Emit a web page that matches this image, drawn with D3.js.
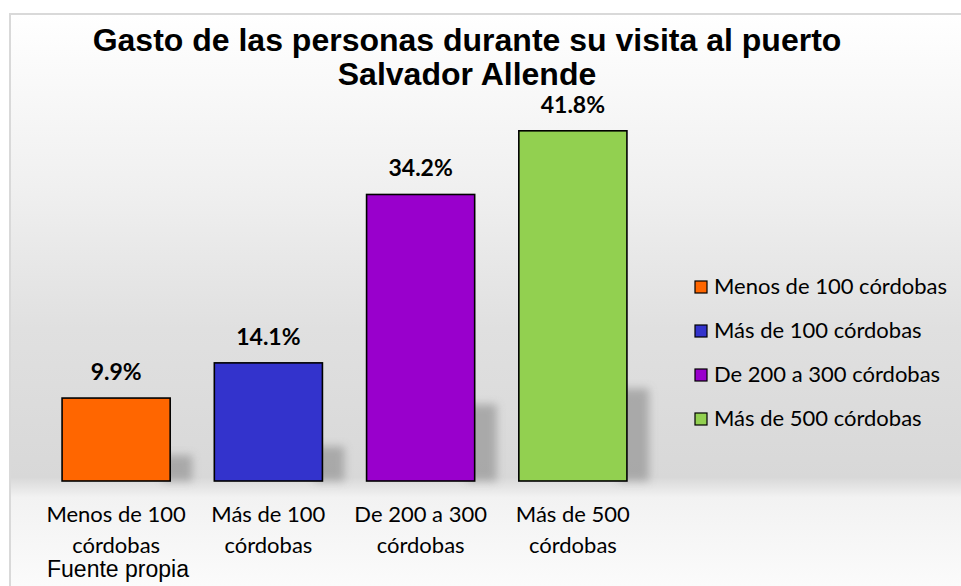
<!DOCTYPE html>
<html>
<head>
<meta charset="utf-8">
<script src="https://cdnjs.cloudflare.com/ajax/libs/d3/7.8.5/d3.min.js"></script>
<style>
  body { margin: 0; background: #ffffff; }
  svg { display: block; }
</style>
</head>
<body>
<div id="chart"></div>
<script>
// data
var categories = ["Menos de 100 córdobas", "Más de 100 córdobas", "De 200 a 300 córdobas", "Más de 500 córdobas"];
var axisLines = [["Menos de 100", "córdobas"], ["Más de 100", "córdobas"], ["De 200 a 300", "córdobas"], ["Más de 500", "córdobas"]];
var values = [9.9, 14.1, 34.2, 41.8];
var colors = ["#ff6600", "#3333cc", "#9900cc", "#92d050"];

var width = 961, height = 586;
var labelFont = "Lato, 'Open Sans', sans-serif";

var svg = d3.select("#chart").append("svg")
    .attr("width", width)
    .attr("height", height);

var defs = svg.append("defs");

// background of the chart area: light at top, grey floor, light again below
var grad = defs.append("linearGradient")
    .attr("id", "bg")
    .attr("gradientUnits", "userSpaceOnUse")
    .attr("x1", 0).attr("y1", 14).attr("x2", 0).attr("y2", 586);
[[0, "#ffffff"], [0.3, "#f0f0f0"], [0.55, "#e0e0e0"], [0.81, "#d8d8d8"], [0.845, "#f2f2f2"], [1, "#fbfbfb"]]
    .forEach(function(s){
        grad.append("stop").attr("offset", s[0]).attr("stop-color", s[1]);
    });

var blur = defs.append("filter")
    .attr("id", "shadow")
    .attr("x", "-50%").attr("y", "-50%").attr("width", "200%").attr("height", "200%");
blur.append("feGaussianBlur").attr("stdDeviation", 4);

// frame
svg.append("rect")
    .attr("x", 10).attr("y", 14)
    .attr("width", 970).attr("height", 600)
    .attr("fill", "url(#bg)")
    .attr("stroke", "#d9d9d9")
    .attr("stroke-width", 2);

// title
var title = svg.append("text")
    .attr("text-anchor", "middle")
    .attr("font-family", "'Liberation Sans', Arial, sans-serif")
    .attr("font-weight", "bold")
    .attr("font-size", "32px")
    .attr("fill", "#000");
title.append("tspan").attr("x", 467).attr("y", 51).text("Gasto de las personas durante su visita al puerto");
title.append("tspan").attr("x", 467).attr("y", 85).text("Salvador Allende");

// scales
var x = d3.scaleBand()
    .domain(categories)
    .range([40, 649])
    .paddingInner(0.29)
    .paddingOuter(0.145);

var y = d3.scaleLinear()
    .domain([0, 45])
    .range([481, 104]);

var g = svg.append("g");

// soft shadows falling right of each bar
g.selectAll("rect.shadow")
    .data(values)
    .enter().append("rect")
    .attr("class", "shadow")
    .attr("x", function(d, i){ return x(categories[i]) + x.bandwidth() - 8; })
    .attr("width", 30)
    .attr("y", function(d){ return y(0) - ((y(0) - y(d)) * 0.25 + 5); })
    .attr("height", function(d){ return (y(0) - y(d)) * 0.25 + 5; })
    .attr("fill", "#999")
    .attr("opacity", 0.75)
    .attr("filter", "url(#shadow)");

g.selectAll("rect.bar")
    .data(values)
    .enter().append("rect")
    .attr("class", "bar")
    .attr("x", function(d, i){ return x(categories[i]); })
    .attr("width", x.bandwidth())
    .attr("y", function(d){ return y(d); })
    .attr("height", function(d){ return y(0) - y(d); })
    .attr("fill", function(d, i){ return colors[i]; })
    .attr("stroke", "#000")
    .attr("stroke-width", 1.6);

// value labels
g.selectAll("text.val")
    .data(values)
    .enter().append("text")
    .attr("class", "val")
    .attr("x", function(d, i){ return x(categories[i]) + x.bandwidth() / 2; })
    .attr("y", function(d){ return y(d) - 18; })
    .attr("text-anchor", "middle")
    .attr("font-family", labelFont)
    .attr("font-weight", "bold")
    .attr("font-size", "23px")
    .attr("fill", "#000")
    .text(function(d){ return d.toFixed(1) + "%"; });

// category labels (two lines each)
var xl = g.selectAll("text.cat")
    .data(axisLines)
    .enter().append("text")
    .attr("class", "cat")
    .attr("text-anchor", "middle")
    .attr("font-family", labelFont)
    .attr("font-size", "22px")
    .attr("fill", "#000");
xl.append("tspan")
    .attr("x", function(d, i){ return x(categories[i]) + x.bandwidth() / 2; })
    .attr("y", 522)
    .text(function(d){ return d[0]; });
xl.append("tspan")
    .attr("x", function(d, i){ return x(categories[i]) + x.bandwidth() / 2; })
    .attr("y", 553)
    .text(function(d){ return d[1]; });

// legend
var legend = svg.append("g").attr("transform", "translate(695,0)");
var item = legend.selectAll("g")
    .data(categories)
    .enter().append("g")
    .attr("transform", function(d, i){ return "translate(0," + (287 + i * 44) + ")"; });
item.append("rect")
    .attr("x", 0).attr("y", -6)
    .attr("width", 12).attr("height", 12)
    .attr("fill", function(d, i){ return colors[i]; })
    .attr("stroke", "#000")
    .attr("stroke-width", 1.2);
item.append("text")
    .attr("x", 19)
    .attr("y", 7)
    .attr("font-family", labelFont)
    .attr("font-size", "22px")
    .attr("fill", "#000")
    .text(function(d){ return d; });

// source note
svg.append("text")
    .attr("x", 47)
    .attr("y", 577)
    .attr("font-family", "'Liberation Sans', Arial, sans-serif")
    .attr("font-size", "23px")
    .attr("fill", "#000")
    .text("Fuente propia");
</script>
</body>
</html>
